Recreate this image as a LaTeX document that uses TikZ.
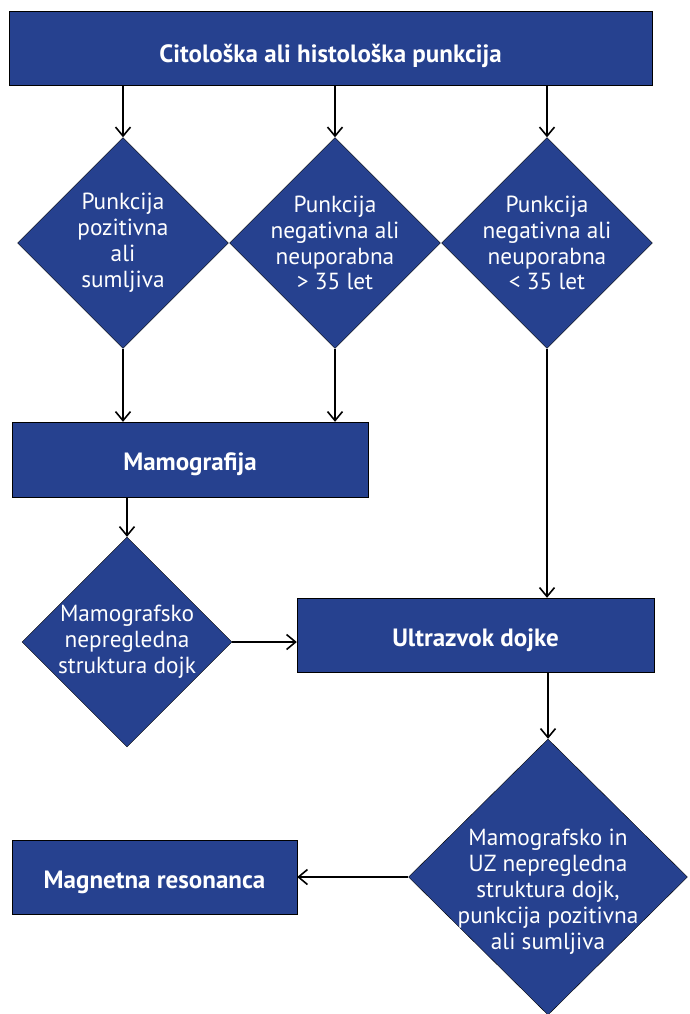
\documentclass[tikz,border=0pt]{standalone}
\usepackage{fontspec}
\setmainfont{PT Sans}
\usetikzlibrary{shapes.geometric,arrows.meta}
\definecolor{boxblue}{RGB}{38,65,143}
\begin{document}
\begin{tikzpicture}[x=1pt,y=-1pt,
    stepbox/.style={shape=rectangle,draw=black,fill=boxblue,text=white,
      inner sep=0pt,text height=22pt,text depth=0pt,
      font=\fontsize{25}{28}\selectfont\bfseries},
    choice/.style={shape=diamond,draw=black,fill=boxblue,text=white,
      inner sep=-22pt,aspect=1,align=center,
      font=\fontsize{23.3}{25.9}\selectfont},
    flow/.style={-{Straight Barb[length=9pt,width=15pt,line width=1.6pt]},line width=1.6pt}]
  \useasboundingbox (0,0) rectangle (689,1014);

  \node[stepbox,minimum width=643pt,minimum height=74pt,text height=30pt] (cito) at (330.5,48) {Citološka ali histološka punkcija};

  \node[choice,minimum width=211pt,minimum height=211pt] (poz) at (123,243) {Punkcija\\pozitivna\\ali\\sumljiva};
  \node[choice,minimum width=211pt,minimum height=211pt] (negv) at (335,243) {Punkcija\\negativna ali\\neuporabna\\> 35 let};
  \node[choice,minimum width=211pt,minimum height=211pt] (negm) at (547,243) {Punkcija\\negativna ali\\neuporabna\\< 35 let};

  \node[stepbox,minimum width=356pt,minimum height=75pt] (mamo) at (190,459.5) {Mamografija};
  \node[choice,minimum width=210pt,minimum height=210pt] (mnep) at (127,642) {Mamografsko\\nepregledna\\struktura dojk};
  \node[stepbox,minimum width=357pt,minimum height=74pt] (uz) at (475.5,635) {Ultrazvok dojke};
  \node[choice,minimum width=279pt,minimum height=276pt] (uznep) at (548,877) {\rule{0pt}{46pt}Mamografsko in\\UZ nepregledna\\struktura dojk,\\punkcija pozitivna\\ali sumljiva};
  \node[stepbox,minimum width=285pt,minimum height=74pt] (mr) at (154.5,877) {Magnetna resonanca};

  \path [flow] (poz |- cito.south) edge (poz.north);
  \path [flow] (negv |- cito.south) edge (negv.north);
  \path [flow] (negm |- cito.south) edge (negm.north);
  \path [flow] (poz.south) edge (poz.south |- mamo.north);
  \path [flow] (negv.south) edge (negv.south |- mamo.north);
  \path [flow] (mnep |- mamo.south) edge (mnep.north);
  \path [flow] (negm.south) edge (negm.south |- uz.north);
  \path [flow] (mnep.east) edge (mnep.east -| uz.west);
  \path [flow] (uznep |- uz.south) edge (uznep.north);
  \path [flow] (uznep.west) edge (uznep.west -| mr.east);
\end{tikzpicture}
\end{document}
